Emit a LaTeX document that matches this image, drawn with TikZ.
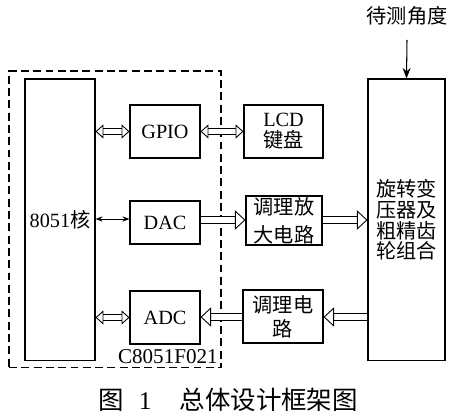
\documentclass[tikz,border=0pt]{standalone}
\usepackage{fontspec}
\setmainfont{Liberation Serif}
\newfontfamily\cjk{Noto Sans CJK SC}
\usetikzlibrary{arrows, arrows.meta}
\tikzset{headarrow/.style = {-{Stealth[length=.6em]}}}
\tikzset{block/.style = {draw, line width=.6pt, inner sep=0pt, align=center,
                         font=\fontsize{11.5}{14}\selectfont}}
\tikzset{busarrow/.style = {double, line width=.5pt, double distance=2.6pt,
                            {Triangle[open, width=8pt, length=4.5pt]}-{Triangle[open, width=8pt, length=4.5pt]}}}
\tikzset{sigarrow/.style = {double, line width=.5pt, double distance=3.6pt,
                            -{Triangle[open, width=11pt, length=6pt]}}}

\begin{document}
\begin{tikzpicture}[x=0.02cm, y=-0.02cm]
    \useasboundingbox (0,0) rectangle (456,418);

    \node (chip) at (115,219.5) [draw, dash pattern=on 4.5pt off 2.5pt,
                                 line width=.6pt,
                                 minimum width=4.24cm, minimum height=5.94cm] {};
    \node (chipname) at (chip.south east) [anchor=south east, inner xsep=2pt, inner ysep=2.5pt,
                                           font=\fontsize{12}{14}\selectfont] {C8051F021};

    \node (core) at (60,220) [block, minimum width=1.4cm, minimum height=5.64cm] {8051{\cjk 核}};
    \node (gpio) at (165,131.5) [block, minimum width=1.4cm, minimum height=1.06cm] {GPIO};
    \node (dac) at (165,222.5) [block, minimum width=1.4cm, minimum height=.86cm] {DAC};
    \node (adc) at (165,317.5) [block, minimum width=1.4cm, minimum height=1.06cm] {ADC};

    \node (lcd) at (283.5,131.5) [block, minimum width=1.58cm, minimum height=1.06cm,
                                  font=\fontsize{11.5}{12}\selectfont] {LCD\\{\cjk 键盘}};
    \node (amp) at (284,220.5) [block, minimum width=1.52cm, minimum height=.98cm,
                                font=\fontsize{11.5}{16}\selectfont] {\cjk 调理放\\\cjk 大电路};
    \node (cond) at (283,316.5) [block, minimum width=1.6cm, minimum height=1.06cm,
                                 font=\fontsize{11.5}{13.5}\selectfont] {\cjk 调理电\\\cjk 路};

    \node (resolver) at (406.5,220) [block, minimum width=1.54cm, minimum height=5.64cm,
                                     font=\fontsize{11.5}{11.8}\selectfont]
        {\cjk 旋转变\\\cjk 压器及\\\cjk 粗精齿\\\cjk 轮组合};
    \node (angle) at (407,16) [inner sep=0pt, font=\fontsize{11.5}{14}\cjk] {待测角度};
    \coordinate (anglein) at (407,40);

    \node (caption) at (228,400) [inner sep=0pt, font=\fontsize{14.5}{16}\selectfont]
        {{\cjk 图}\hspace{.6em}1\hspace{1.1em}{\cjk 总体设计框架图}};

    % buses inside and out of the chip
    \draw[busarrow] (gpio.west -| core.east) -- (gpio.west);
    \draw[busarrow] (gpio.east) -- (lcd.west);
    \draw[busarrow] (adc.west -| core.east) -- (adc.west);
    \draw[{Stealth[length=4pt]}-{Stealth[length=4pt]}, line width=.5pt]
        (core.east |- 0,219) -- (dac.west |- 0,219);

    % signal path
    \foreach \Source/\Target in {%
        dac/amp,
        amp/resolver%
        }
        \draw[sigarrow] (\Source.east |- 0,220) -- (\Target.west |- 0,220);
    \foreach \Source/\Target in {%
        resolver/cond,
        cond/adc%
        }
        \draw[sigarrow] (\Source.west |- 0,317) -- (\Target.east |- 0,317);

    \draw[headarrow, line width=.6pt] (anglein) -- (resolver.north);
\end{tikzpicture}
\end{document}
